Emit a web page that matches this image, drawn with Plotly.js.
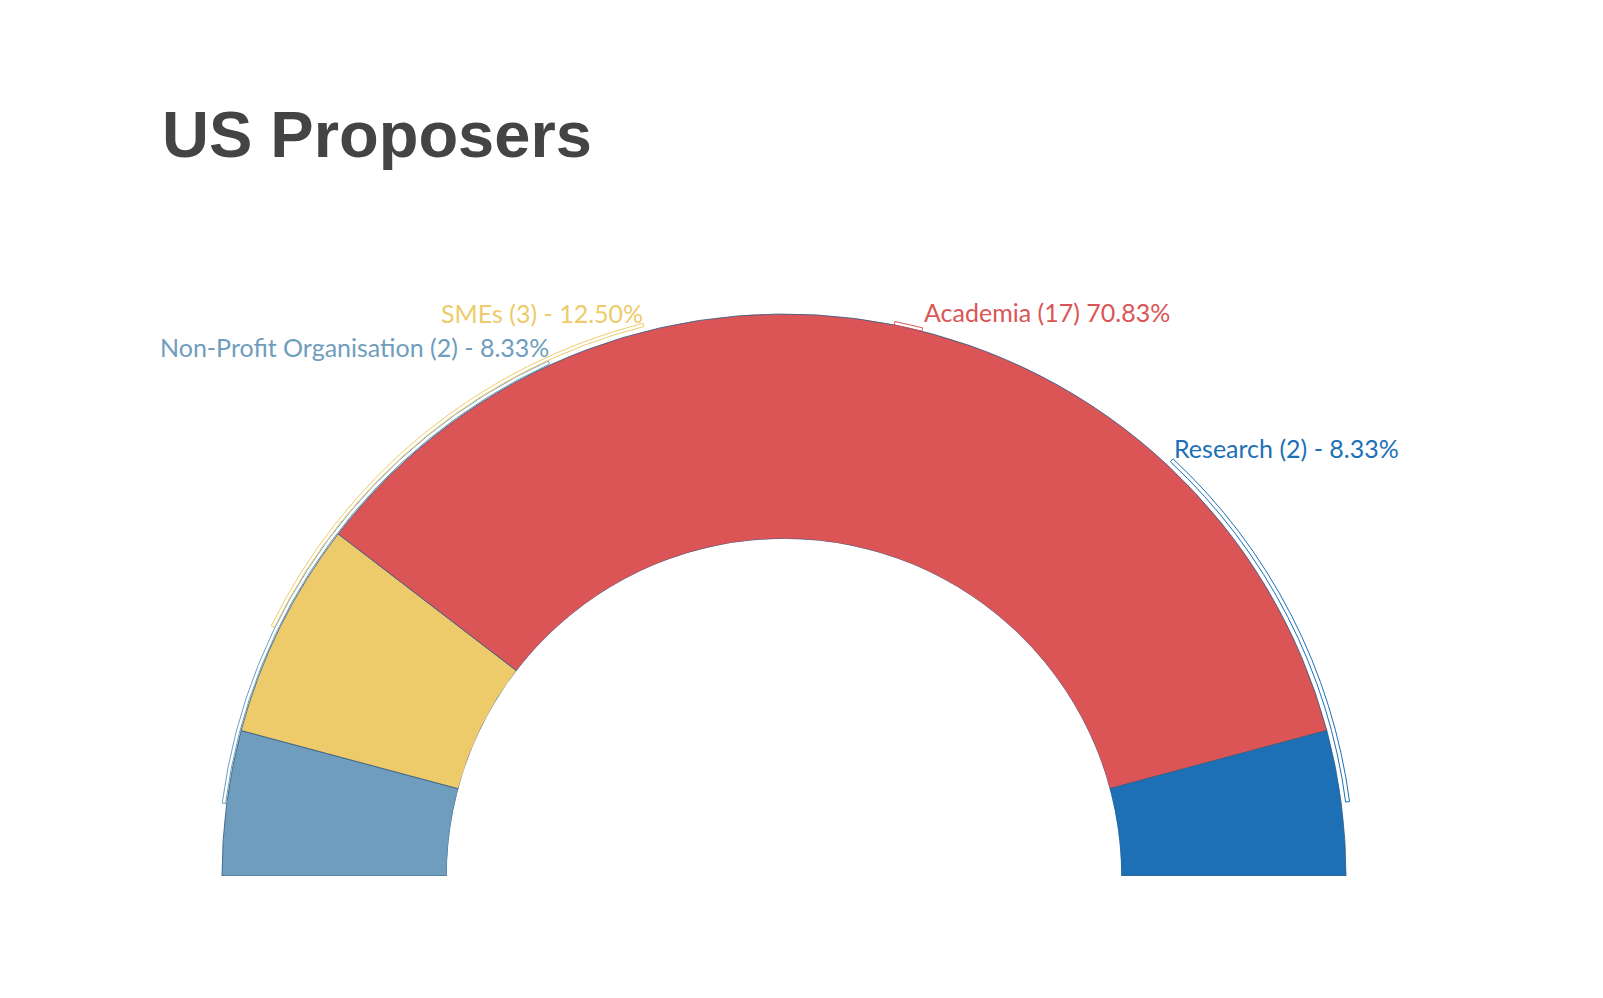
<!DOCTYPE html>
<html>
<head>
<meta charset="utf-8">
<script src="https://cdn.plot.ly/plotly-3.0.1.min.js"></script>
<style>
  html, body { margin: 0; padding: 0; background: #fff; overflow: hidden; }
  #chart { width: 1603px; height: 998px; }
</style>
</head>
<body>
<div id="chart"></div>
<script>
// data
const categories = ['Non-Profit Organisation', 'SMEs', 'Academia', 'Research'];
const counts = [2, 3, 17, 2];
const labelTexts = [
  'Non-Profit Organisation (2) - 8.33%',
  'SMEs (3) - 12.50%',
  'Academia (17) 70.83%',
  'Research (2) - 8.33%'
];
const colors = ['#6f9dbd', '#eecb6a', '#db5456', '#1d70b6'];

// label leader brackets (angle span from the left edge, clockwise, degrees)
const bracketFrom = [7.4, 26, 101.3, 133];
const bracketTo = [65.4, 75.7, 104.2, 172.5];
const bracketInner = [1.002, 1.009, 1.0, 1.008];
const bracketOuter = [1.008, 1.015, 1.006, 1.015];

// label anchor points (page px)
const labelX = [158, 439, 922, 1172];
const labelY = [347, 313, 312, 448];

const W = 1603, H = 998;
const px = x => x / W;
const py = y => 1 - y / H;

const total = counts.reduce((a, b) => a + b, 0);
const widths = counts.map(c => c / total * 180);
const starts = [];
let acc = 0;
widths.forEach(w => { starts.push(acc); acc += w; });
const centers = starts.map((s, i) => s + widths[i] / 2);

// geometry of the half donut
const cx = 784, cy = 876, R = 562;
const inner = 0.6, rmax = 1.02;
const Rd = R * rmax;

const slices = {
  type: 'barpolar',
  theta: centers,
  width: widths,
  base: categories.map(() => inner),
  r: categories.map(() => 1 - inner),
  text: categories,
  marker: { color: colors, line: { color: 'rgba(55,95,135,0.85)', width: 1 } },
  hoverinfo: 'text'
};

const brackets = {
  type: 'barpolar',
  theta: bracketFrom.map((f, i) => (f + bracketTo[i]) / 2),
  width: bracketFrom.map((f, i) => bracketTo[i] - f),
  base: bracketInner,
  r: bracketOuter.map((o, i) => o - bracketInner[i]),
  marker: { color: 'rgba(255,255,255,0)', line: { color: colors, width: 1 } },
  hoverinfo: 'skip'
};

const layout = {
  width: W,
  height: H,
  margin: { l: 0, r: 0, t: 0, b: 0 },
  paper_bgcolor: '#fff',
  showlegend: false,
  title: {
    text: 'US Proposers',
    font: { family: 'Liberation Sans, Arial, sans-serif', size: 65, color: '#444', weight: 'bold' },
    xref: 'container', x: 162 / W, xanchor: 'left',
    yref: 'container', y: 1 - 111 / H, yanchor: 'top'
  },
  polar: {
    domain: { x: [px(cx - Rd), px(cx + Rd)], y: [py(cy), py(cy - Rd)] },
    sector: [0, 180],
    hole: inner / rmax,
    bgcolor: 'rgba(0,0,0,0)',
    barmode: 'overlay',
    angularaxis: {
      rotation: 180, direction: 'clockwise',
      showline: false, showgrid: false, showticklabels: false, ticks: ''
    },
    radialaxis: {
      range: [inner, rmax],
      showline: false, showgrid: false, showticklabels: false, ticks: ''
    }
  },
  annotations: labelTexts.map((t, i) => ({
    text: t,
    xref: 'paper', yref: 'paper',
    x: px(labelX[i]), y: py(labelY[i]),
    xanchor: 'left', yanchor: 'middle',
    showarrow: false,
    font: { family: 'Lato, sans-serif', size: 25, color: colors[i] }
  }))
};

Plotly.newPlot('chart', [slices, brackets], layout, { displayModeBar: false, staticPlot: true });
</script>
</body>
</html>
